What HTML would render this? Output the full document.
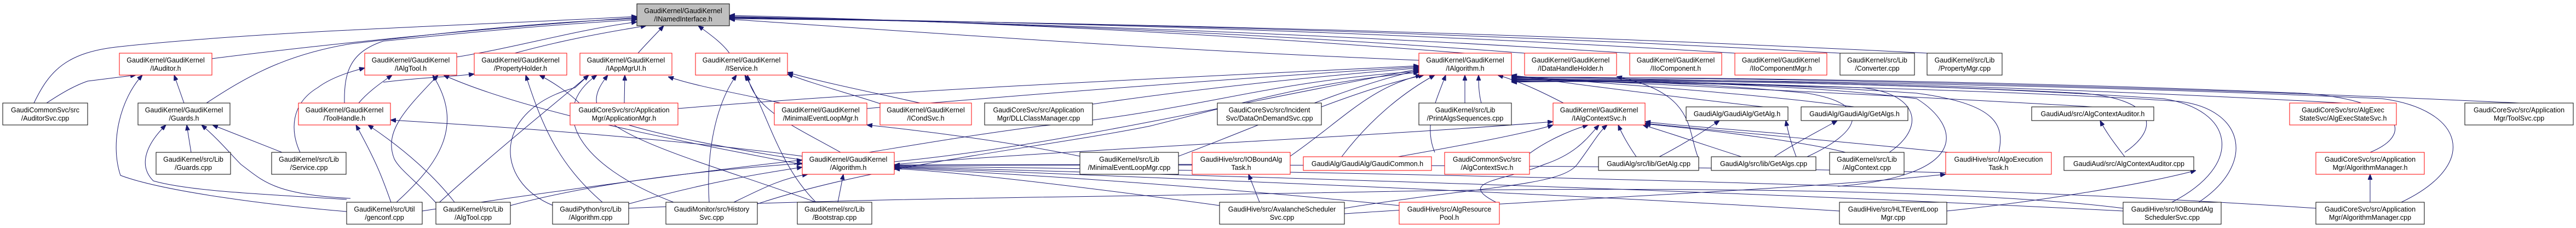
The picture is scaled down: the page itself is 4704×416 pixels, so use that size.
<!DOCTYPE html>
<html><head><meta charset="utf-8"><style>
html,body{margin:0;padding:0;background:#fff;}
svg{display:block;}
text{font-family:"Liberation Sans",Arial,sans-serif;font-size:12.5px;fill:#000;text-anchor:middle;}
.n{fill:#fff;stroke:#000;stroke-width:1;}
.r{fill:#fff;stroke:#ff0000;stroke-width:1;}
.e{fill:none;stroke:#191970;stroke-width:1;}
</style></head><body>
<svg width="4704" height="416" viewBox="0 0 4704 416" xmlns="http://www.w3.org/2000/svg">
<defs><marker id="a" markerWidth="10" markerHeight="8" refX="10" refY="4" orient="auto" markerUnits="userSpaceOnUse"><path d="M0,0 L10,4 L0,8 z" fill="#191970" stroke="#191970"/></marker></defs>
<g class="e" marker-end="url(#a)">
<!-- to root left -->
<path d="M387,107 C600,80 900,50 1163,32"/>
<path d="M62,188 C90,130 120,95 220,85 C500,55 900,45 1163,30"/>
<path d="M377,188 C450,140 520,100 640,80 C850,55 1000,40 1163,34"/>
<path d="M629,188 C628,130 640,95 700,75 C850,60 1000,45 1163,36"/>
<path d="M834,104 C950,85 1050,55 1163,40"/>
<path d="M940,97 C1020,75 1100,60 1180,47"/>
<path d="M1165,97 C1180,80 1195,65 1212,47"/>
<path d="M1332,97 C1320,80 1300,65 1275,47"/>
<!-- to root right -->
<path d="M2675,97 C2200,60 1800,40 1332,28"/>
<path d="M2784,97 C2300,60 1800,40 1332,30"/>
<path d="M2976,97 C2400,60 1800,40 1332,31"/>
<path d="M3168,97 C2500,55 1800,38 1332,32"/>
<path d="M3360,97 C2600,55 1900,40 1332,33"/>
<path d="M3519,97 C2700,55 1900,40 1332,34"/>
<path d="M2591,110 C2100,90 1700,60 1332,35"/>
<!-- IAuditor incoming -->
<path d="M85,188 C120,165 140,155 160,148 L248,137"/>
<path d="M214,278 L248,140" transform="translate(0,0)" style="display:none"/>
<path d="M215,188 L287,137" style="display:none"/>
<path d="M633,386 C500,375 300,350 220,320 C200,260 220,180 260,137"/>
<path d="M336,188 L318,137"/>
<!-- Guards incoming -->
<path d="M349,278 L341,228"/>
<path d="M515,278 L388,228"/>
<path d="M633,364 C500,355 350,350 280,330 C250,300 270,260 303,228"/>
<path d="M640,362 C500,355 480,330 440,300 C420,280 400,255 368,228"/>
<!-- ToolHandle incoming -->
<path d="M1465,285 C1200,250 900,230 713,219"/>
<path d="M714,369 C700,330 690,300 650,228"/>
<path d="M830,369 C800,330 750,280 672,228"/>
<!-- IAlgTool incoming -->
<path d="M655,188 C670,170 690,155 716,137"/>
<path d="M548,278 C530,240 530,190 580,160 C600,145 630,133 666,124"/>
<path d="M724,369 C800,300 850,230 790,137"/>
<path d="M796,370 C760,330 730,310 720,290 C700,240 740,200 800,137"/>
<path d="M1465,300 C1200,250 950,200 810,137"/>
<!-- PropertyHolder incoming -->
<path d="M1009,372 C930,330 900,260 900,215 C900,170 960,150 1010,137" style="display:none"/>
<path d="M700,150 C780,140 830,140 866,135"/>
<path d="M1465,292 C1200,250 1100,220 1060,190 C1040,170 1010,150 985,137"/>
<path d="M1100,369 C1020,300 990,230 960,137"/>
<!-- IAppMgrUI incoming -->
<path d="M1140,188 L1141,137"/>
<path d="M1010,375 C900,330 900,200 1050,160 L1075,137"/>
<path d="M1230,369 C1050,300 1000,200 1090,137"/>
<path d="M1490,369 C1300,300 1100,250 1090,190 C1085,170 1100,150 1110,137"/>
<path d="M1425,188 C1350,170 1280,160 1220,140"/>
<path d="M796,375 C900,280 1000,200 1075,137"/>
<!-- IService incoming -->
<path d="M1295,369 C1290,300 1300,200 1345,137"/>
<path d="M1490,369 C1420,300 1400,200 1360,137"/>
<path d="M1535,278 C1450,230 1375,200 1365,137"/>
<path d="M1610,190 C1550,170 1490,155 1438,135"/>
<path d="M1680,188 C1600,170 1500,150 1438,132"/>
<!-- MEL incoming -->
<path d="M1972,285 C1850,260 1700,240 1583,228"/>
<!-- IAlgorithm incoming from left -->
<path d="M1238,198 C1700,160 2200,140 2591,120"/>
<path d="M1583,198 C1900,170 2300,140 2591,122"/>
<path d="M1995,190 C2200,160 2400,140 2591,124"/>
<path d="M1633,295 C1900,270 2200,200 2591,126"/>
<path d="M2152,285 C2300,230 2450,160 2591,128"/>
<path d="M2356,285 C2450,220 2500,160 2595,137"/>
<path d="M1450,300 C1700,260 1750,250 1900,230 C2200,200 2300,150 2591,130"/>
<path d="M1383,372 C1600,300 1900,270 2100,230 C2300,180 2400,150 2591,132"/>
<path d="M2413,195 C2480,170 2540,150 2600,137"/>
<path d="M2450,286 C2500,220 2560,170 2620,137"/>
<path d="M2620,278 C2600,230 2620,190 2640,137"/>
<path d="M2675,188 L2675,137"/>
<path d="M2705,188 C2700,170 2700,150 2700,137"/>
<path d="M2855,188 C2820,170 2780,150 2735,137"/>
<path d="M3102,290 C3080,240 3100,170 2952,140"/>
<!-- IAlgorithm incoming from right -->
<path d="M3220,195 C3000,170 2850,150 2760,137"/>
<path d="M3386,195 C3200,170 2900,150 2760,138"/>
<path d="M3821,195 C3400,170 2900,150 2760,139"/>
<path d="M4278,188 C3600,150 3000,145 2760,140"/>
<path d="M4600,188 C3800,150 3000,140 2760,141"/>
<path d="M4328,278 C4420,240 4370,180 4200,170 C3600,145 3000,140 2760,142"/>
<path d="M4385,369 C4530,300 4500,200 4350,180 C3700,150 3000,145 2760,143"/>
<path d="M3450,278 C3520,230 3500,170 3400,160 C3100,150 2900,145 2760,144"/>
<path d="M3650,278 C3660,230 3650,190 3500,170 C3200,150 2900,145 2760,145"/>
<path d="M3966,369 C4100,300 4080,200 3950,180 C3500,150 3000,145 2760,146"/>
<path d="M4015,369 C4120,300 4100,200 3980,185 C3600,160 3000,150 2760,147"/>
<path d="M3880,278 C3950,230 3930,180 3800,170 C3400,150 3000,145 2760,148"/>
<path d="M3300,286 C3400,240 3420,190 3300,170 C3100,150 2900,145 2760,149"/>
<path d="M3356,340 C3600,320 3580,230 3500,180 C3300,155 3000,145 2760,150"/>
<!-- IAlgContextSvc incoming -->
<path d="M2793,280 C2820,260 2860,240 2900,228"/>
<path d="M2553,286 C2700,260 2800,240 2836,228"/>
<path d="M1633,300 C2000,270 2500,250 2836,222"/>
<path d="M2455,375 C2650,340 2700,300 2750,300 C2800,290 2820,260 2860,228" style="display:none"/>
<path d="M2738,372 C2650,330 2750,330 2820,300 C2880,280 2900,250 2920,228"/>
<path d="M2455,380 C2700,340 2850,340 2880,300 C2910,260 2920,240 2935,228"/>
<path d="M2988,286 C2970,260 2960,240 2955,228"/>
<path d="M3180,286 C3100,260 3040,240 3000,228"/>
<path d="M3266,245 C3150,235 3050,228 3004,222"/>
<path d="M3716,295 C3500,270 3200,245 3004,225"/>
<path d="M3370,278 C3300,260 3150,240 3004,226"/>
<!-- GetAlg.h / GetAlgs.h / others -->
<path d="M3030,286 C3080,260 3110,240 3140,220"/>
<path d="M3240,286 C3280,260 3320,240 3355,220"/>
<path d="M3280,286 C3270,260 3265,240 3261,220"/>
<path d="M3880,286 C3860,260 3845,240 3835,220"/>
<path d="M4328,369 L4328,318"/>
<path d="M2300,369 L2280,318"/>
<!-- Algorithm.h incoming -->
<path d="M771,385 C1000,350 1300,310 1465,292"/>
<path d="M932,375 C1100,330 1300,310 1465,298"/>
<path d="M1148,372 C1300,330 1400,315 1465,305"/>
<path d="M1340,369 C1400,340 1430,325 1475,318"/>
<path d="M1530,369 L1540,318"/>
<path d="M2227,375 C1900,330 1700,310 1633,308"/>
<path d="M2555,375 C2100,330 1800,315 1633,306"/>
<path d="M3359,385 C2800,350 2000,320 1633,305"/>
<path d="M3877,385 C3000,340 2000,315 1633,304"/>
<path d="M4229,380 C3500,330 2200,310 1633,303"/>
<path d="M3553,315 C3000,300 2200,300 1633,302"/>
<path d="M2356,300 C2100,300 1800,300 1633,301"/>
<!-- AlgoExecutionTask -->
<path d="M2455,390 C2900,360 3300,345 3553,318"/>
<path d="M3555,385 C3700,370 3900,340 4010,311"/>
<!-- misc bottom connections -->
<path d="M1148,380 C1600,360 2000,360 2500,350 C3000,340 3600,345 3877,380" marker-end="" style="marker-end:none"/>
</g>
<!-- nodes -->
<g>
<rect x="1163" y="7" width="169" height="40" fill="#bfbfbf" stroke="#000"/>
<text x="1247.5" y="24">GaudiKernel/GaudiKernel</text><text x="1247.5" y="39">/INamedInterface.h</text>

<rect class="r" x="218" y="97" width="169" height="40"/><text x="302.5" y="114">GaudiKernel/GaudiKernel</text><text x="302.5" y="129">/IAuditor.h</text>
<rect class="r" x="666" y="97" width="168" height="40"/><text x="750" y="114">GaudiKernel/GaudiKernel</text><text x="750" y="129">/IAlgTool.h</text>
<rect class="r" x="866" y="97" width="169" height="40"/><text x="950.5" y="114">GaudiKernel/GaudiKernel</text><text x="950.5" y="129">/PropertyHolder.h</text>
<rect class="r" x="1059" y="97" width="168" height="40"/><text x="1143" y="114">GaudiKernel/GaudiKernel</text><text x="1143" y="129">/IAppMgrUI.h</text>
<rect class="r" x="1270" y="97" width="168" height="40"/><text x="1354" y="114">GaudiKernel/GaudiKernel</text><text x="1354" y="129">/IService.h</text>
<rect class="r" x="2591" y="97" width="169" height="40"/><text x="2675.5" y="114">GaudiKernel/GaudiKernel</text><text x="2675.5" y="129">/IAlgorithm.h</text>
<rect class="r" x="2784" y="97" width="168" height="40"/><text x="2868" y="114">GaudiKernel/GaudiKernel</text><text x="2868" y="129">/IDataHandleHolder.h</text>
<rect class="r" x="2976" y="97" width="168" height="40"/><text x="3060" y="114">GaudiKernel/GaudiKernel</text><text x="3060" y="129">/IIoComponent.h</text>
<rect class="r" x="3168" y="97" width="168" height="40"/><text x="3252" y="114">GaudiKernel/GaudiKernel</text><text x="3252" y="129">/IIoComponentMgr.h</text>
<rect class="n" x="3360" y="97" width="136" height="40"/><text x="3428" y="114">GaudiKernel/src/Lib</text><text x="3428" y="129">/Converter.cpp</text>
<rect class="n" x="3519" y="97" width="137" height="40"/><text x="3587.5" y="114">GaudiKernel/src/Lib</text><text x="3587.5" y="129">/PropertyMgr.cpp</text>

<rect class="n" x="5" y="188" width="155" height="40"/><text x="82.5" y="205">GaudiCommonSvc/src</text><text x="82.5" y="220">/AuditorSvc.cpp</text>
<rect class="n" x="252" y="188" width="168" height="40"/><text x="336" y="205">GaudiKernel/GaudiKernel</text><text x="336" y="220">/Guards.h</text>
<rect class="r" x="545" y="188" width="168" height="40"/><text x="629" y="205">GaudiKernel/GaudiKernel</text><text x="629" y="220">/ToolHandle.h</text>
<rect class="r" x="1041" y="188" width="197" height="40"/><text x="1139.5" y="205">GaudiCoreSvc/src/Application</text><text x="1139.5" y="220">Mgr/ApplicationMgr.h</text>
<rect class="r" x="1414" y="188" width="169" height="40"/><text x="1498.5" y="205">GaudiKernel/GaudiKernel</text><text x="1498.5" y="220">/MinimalEventLoopMgr.h</text>
<rect class="r" x="1607" y="188" width="167" height="40"/><text x="1690.5" y="205">GaudiKernel/GaudiKernel</text><text x="1690.5" y="220">/ICondSvc.h</text>
<rect class="n" x="1798" y="188" width="197" height="40"/><text x="1896.5" y="205">GaudiCoreSvc/src/Application</text><text x="1896.5" y="220">Mgr/DLLClassManager.cpp</text>
<rect class="n" x="2223" y="188" width="190" height="40"/><text x="2318" y="205">GaudiCoreSvc/src/Incident</text><text x="2318" y="220">Svc/DataOnDemandSvc.cpp</text>
<rect class="n" x="2591" y="188" width="169" height="40"/><text x="2675.5" y="205">GaudiKernel/src/Lib</text><text x="2675.5" y="220">/PrintAlgsSequences.cpp</text>
<rect class="r" x="2836" y="188" width="168" height="40"/><text x="2920" y="205">GaudiKernel/GaudiKernel</text><text x="2920" y="220">/IAlgContextSvc.h</text>
<rect class="n" x="3079" y="195" width="186" height="25"/><text x="3172" y="212">GaudiAlg/GaudiAlg/GetAlg.h</text>
<rect class="n" x="3289" y="195" width="195" height="25"/><text x="3386.5" y="212">GaudiAlg/GaudiAlg/GetAlgs.h</text>
<rect class="n" x="3710" y="195" width="223" height="25"/><text x="3821.5" y="212">GaudiAud/src/AlgContextAuditor.h</text>
<rect class="r" x="4181" y="188" width="195" height="40"/><text x="4278.5" y="205">GaudiCoreSvc/src/AlgExec</text><text x="4278.5" y="220">StateSvc/AlgExecStateSvc.h</text>
<rect class="n" x="4501" y="188" width="198" height="40"/><text x="4600" y="205">GaudiCoreSvc/src/Application</text><text x="4600" y="220">Mgr/ToolSvc.cpp</text>

<rect class="n" x="285" y="278" width="136" height="40"/><text x="353" y="295">GaudiKernel/src/Lib</text><text x="353" y="310">/Guards.cpp</text>
<rect class="n" x="496" y="278" width="136" height="40"/><text x="564" y="295">GaudiKernel/src/Lib</text><text x="564" y="310">/Service.cpp</text>
<rect class="r" x="1465" y="278" width="168" height="40"/><text x="1549" y="295">GaudiKernel/GaudiKernel</text><text x="1549" y="310">/Algorithm.h</text>
<rect class="n" x="1972" y="278" width="180" height="40"/><text x="2062" y="295">GaudiKernel/src/Lib</text><text x="2062" y="310">/MinimalEventLoopMgr.cpp</text>
<rect class="r" x="2177" y="278" width="179" height="40"/><text x="2266.5" y="295">GaudiHive/src/IOBoundAlg</text><text x="2266.5" y="310">Task.h</text>
<rect class="r" x="2380" y="286" width="234" height="25"/><text x="2497" y="303">GaudiAlg/GaudiAlg/GaudiCommon.h</text>
<rect class="r" x="2638" y="278" width="155" height="40"/><text x="2715.5" y="295">GaudiCommonSvc/src</text><text x="2715.5" y="310">/AlgContextSvc.h</text>
<rect class="n" x="2919" y="286" width="183" height="25"/><text x="3010.5" y="303">GaudiAlg/src/lib/GetAlg.cpp</text>
<rect class="n" x="3125" y="286" width="191" height="25"/><text x="3220.5" y="303">GaudiAlg/src/lib/GetAlgs.cpp</text>
<rect class="n" x="3341" y="278" width="136" height="40"/><text x="3409" y="295">GaudiKernel/src/Lib</text><text x="3409" y="310">/AlgContext.cpp</text>
<rect class="r" x="3553" y="278" width="193" height="40"/><text x="3649.5" y="295">GaudiHive/src/AlgoExecution</text><text x="3649.5" y="310">Task.h</text>
<rect class="n" x="3769" y="286" width="237" height="25"/><text x="3887.5" y="303">GaudiAud/src/AlgContextAuditor.cpp</text>
<rect class="r" x="4229" y="278" width="198" height="40"/><text x="4328" y="295">GaudiCoreSvc/src/Application</text><text x="4328" y="310">Mgr/AlgorithmManager.h</text>

<rect class="n" x="633" y="369" width="138" height="40"/><text x="702" y="386">GaudiKernel/src/Util</text><text x="702" y="401">/genconf.cpp</text>
<rect class="n" x="796" y="369" width="136" height="40"/><text x="864" y="386">GaudiKernel/src/Lib</text><text x="864" y="401">/AlgTool.cpp</text>
<rect class="n" x="1009" y="369" width="139" height="40"/><text x="1078.5" y="386">GaudiPython/src/Lib</text><text x="1078.5" y="401">/Algorithm.cpp</text>
<rect class="n" x="1216" y="369" width="167" height="40"/><text x="1299.5" y="386">GaudiMonitor/src/History</text><text x="1299.5" y="401">Svc.cpp</text>
<rect class="n" x="1456" y="369" width="136" height="40"/><text x="1524" y="386">GaudiKernel/src/Lib</text><text x="1524" y="401">/Bootstrap.cpp</text>
<rect class="n" x="2227" y="369" width="228" height="40"/><text x="2341" y="386">GaudiHive/src/AvalancheScheduler</text><text x="2341" y="401">Svc.cpp</text>
<rect class="r" x="2555" y="369" width="183" height="40"/><text x="2646.5" y="386">GaudiHive/src/AlgResource</text><text x="2646.5" y="401">Pool.h</text>
<rect class="n" x="3359" y="369" width="196" height="40"/><text x="3457" y="386">GaudiHive/src/HLTEventLoop</text><text x="3457" y="401">Mgr.cpp</text>
<rect class="n" x="3877" y="369" width="179" height="40"/><text x="3966.5" y="386">GaudiHive/src/IOBoundAlg</text><text x="3966.5" y="401">SchedulerSvc.cpp</text>
<rect class="n" x="4229" y="369" width="198" height="40"/><text x="4328" y="386">GaudiCoreSvc/src/Application</text><text x="4328" y="401">Mgr/AlgorithmManager.cpp</text>
</g>
</svg>
</body></html>
